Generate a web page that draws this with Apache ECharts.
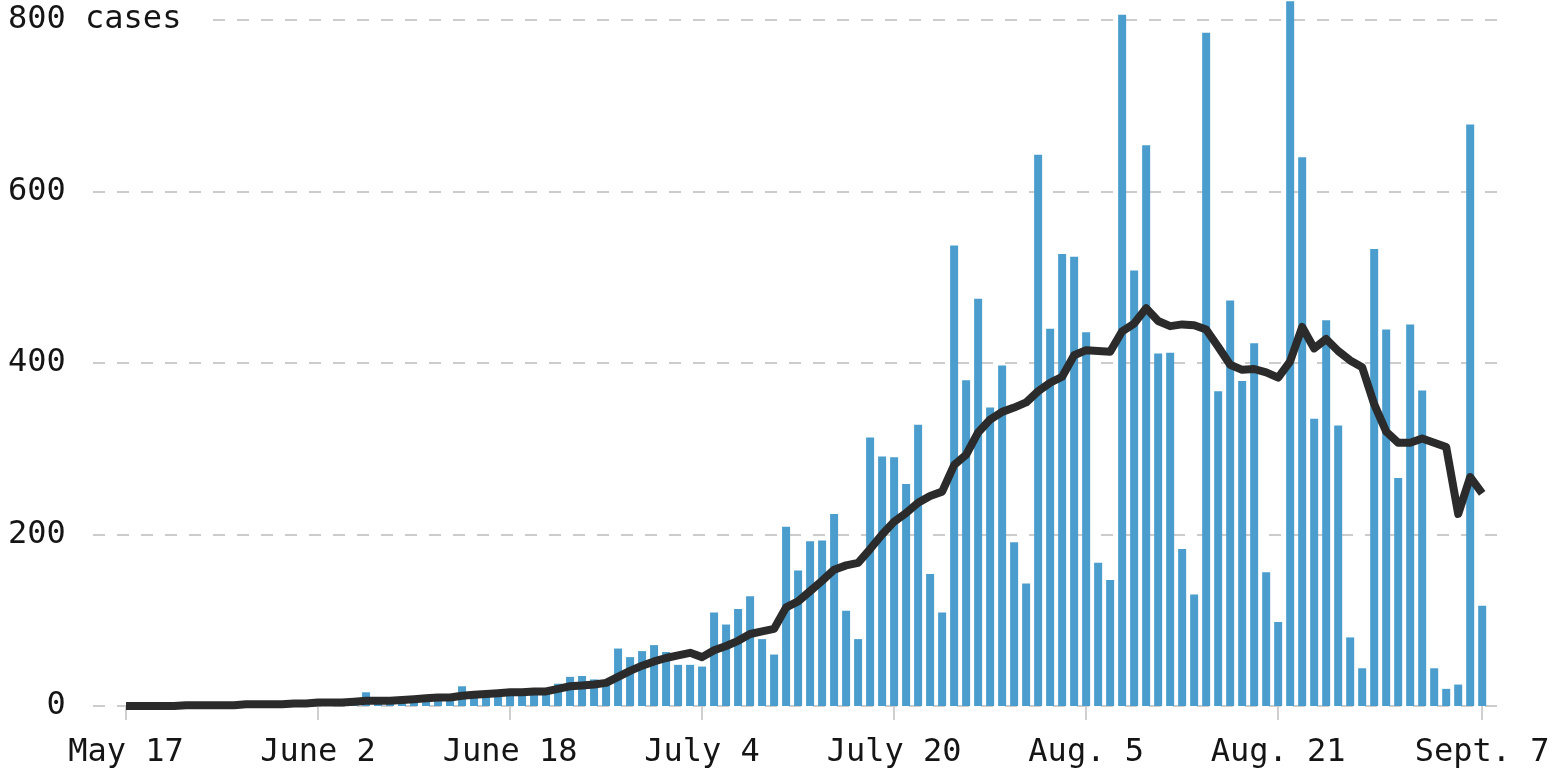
<!DOCTYPE html>
<html>
<head>
<meta charset="utf-8">
<script src="https://cdn.jsdelivr.net/npm/echarts@6/dist/echarts.min.js"></script>
<style>
  html, body { margin: 0; padding: 0; background: #fff; }
  #main { width: 1555px; height: 769px; }
</style>
</head>
<body>
<div id="main"></div>
<script>
// day index 0 = May 17, 113 = Sept. 7
var dailyCases = [
  0, 1, 0, 1, 1, 2, 1, 2, 1, 2, 3, 2, 3, 2, 4, 3, 5, 4, 5, 6,
  16, 6, 8, 7, 11, 9, 8, 10, 23, 12, 14, 15,
  16, 17, 17, 20, 26, 34, 35, 31, 28, 67, 57, 64, 71, 63, 48, 48, 46, 109,
  95, 113, 128, 78, 60, 209, 158, 192, 193, 224, 111, 78, 313, 291, 290,
  259, 328, 154, 109, 537, 380, 475, 348, 397, 191, 143, 643, 440, 527, 524, 436,
  167, 147, 806, 508, 654, 411, 412, 183, 130, 785, 367, 473, 379, 423, 156, 98, 822,
  640, 335, 450, 327, 80, 44, 533, 439, 266, 445, 368, 44, 20, 25, 678, 117
];

// 7-day average line
var weeklyAvg = [
  0, 0, 0, 0, 0, 1, 1, 1, 1, 1, 2, 2, 2, 2, 3, 3,
  4, 4, 4, 5, 6, 6, 6, 7, 8, 9, 10, 10, 12, 13, 14, 15,
  16, 16, 17, 17, 20, 23, 24, 25, 27, 34, 41, 47, 52, 56, 59, 62, 57, 65,
  70, 76, 84, 87, 90, 115, 122, 134, 146, 159, 164, 167, 183, 200, 215,
  225, 237, 245, 250, 281, 293, 319, 334, 343, 348, 354, 367, 377, 384, 409, 415,
  414, 413, 437, 446, 464, 449, 443, 445, 444, 439, 419, 398, 392, 393, 389, 383, 402,
  442, 417, 428, 414, 403, 395, 352, 320, 307, 307, 312, 307, 302, 224, 267, 248
];

var tickDays = [0, 16, 32, 48, 64, 80, 96, 113];
var tickLabels = ['May 17', 'June 2', 'June 18', 'July 4', 'July 20', 'Aug. 5', 'Aug. 21', 'Sept. 7'];

var yLabels = { 0: '  0', 200: '200', 400: '400', 600: '600', 800: '{c|800 cases}' };

var barData = [];
var lineData = [];
for (var i = 0; i < dailyCases.length; i++) {
  barData.push([i, dailyCases[i]]);
  lineData.push([i, weeklyAvg[i]]);
}

var monoFont = '"DejaVu Sans Mono", "Liberation Mono", monospace';

var myChart = echarts.init(document.getElementById('main'));
var option = {
  animation: false,
  backgroundColor: '#fff',
  grid: { left: 93, right: 50, top: 20, bottom: 62 },
  xAxis: {
    type: 'value',
    min: -2.75,
    max: 114.9,
    splitLine: { show: false },
    axisLine: { show: false },
    axisTick: {
      show: true,
      customValues: tickDays,
      length: 14,
      lineStyle: { color: '#cfcfcf', width: 2 }
    },
    axisLabel: {
      customValues: tickDays,
      margin: 31,
      fontFamily: monoFont,
      fontSize: 32,
      color: '#151515',
      formatter: function (v) {
        var k = tickDays.indexOf(Math.round(v));
        return k >= 0 ? tickLabels[k] : '';
      }
    }
  },
  yAxis: {
    type: 'value',
    min: 0,
    max: 800,
    interval: 200,
    axisLine: { show: false },
    axisTick: { show: false },
    splitLine: {
      show: true,
      lineStyle: { color: '#cccccc', width: 2, type: [12, 12] }
    },
    axisLabel: {
      align: 'left',
      margin: 85,
      fontFamily: monoFont,
      fontSize: 32,
      color: '#151515',
      formatter: function (v) { return yLabels[v] || ''; },
      rich: {
        c: {
          fontFamily: monoFont,
          fontSize: 32,
          color: '#151515',
          backgroundColor: '#fff',
          padding: [4, 28, 4, 0]
        }
      }
    }
  },
  series: [
    {
      name: 'cases',
      type: 'bar',
      data: barData,
      barWidth: 8,
      clip: false,
      itemStyle: { color: '#4a9dcc' },
      z: 2
    },
    {
      name: '7-day average',
      type: 'line',
      data: lineData,
      symbol: 'none',
      clip: false,
      lineStyle: { color: '#2b2b2b', width: 8, join: 'round', cap: 'butt' },
      z: 3
    }
  ]
};
myChart.setOption(option);
</script>
</body>
</html>
